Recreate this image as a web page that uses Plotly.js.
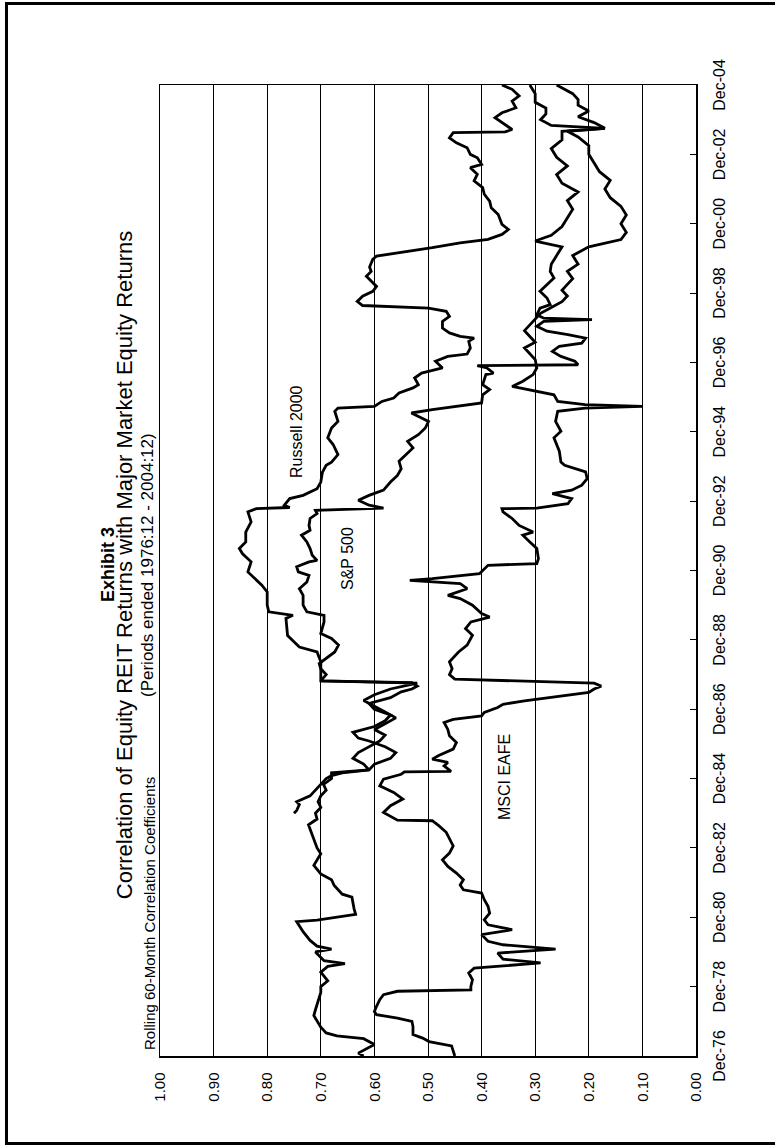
<!DOCTYPE html>
<html><head><meta charset="utf-8">
<script src="https://cdn.plot.ly/plotly-3.0.1.min.js"></script>
<style>
html,body{margin:0;padding:0;background:#fff;width:775px;height:1148px;overflow:hidden;}
#rot{position:absolute;left:0;top:0;width:1148px;height:775px;transform-origin:0 0;transform:translate(0,1148px) rotate(-90deg);}
#frame{position:absolute;left:5px;top:2px;width:800px;height:1137px;border:3px solid #000;border-right:none;pointer-events:none;}
</style></head><body>
<div id="rot"><div id="chart" style="width:1148px;height:775px"></div></div>
<div id="frame"></div>
<script>
// Months elapsed since Dec-1976
const tickLabels = ['Dec-76','Dec-78','Dec-80','Dec-82','Dec-84','Dec-86','Dec-88','Dec-90','Dec-92','Dec-94','Dec-96','Dec-98','Dec-00','Dec-02','Dec-04'];

const sp500Months = [0,1,4,6,7,8,10,12,14,16,18,22,24,26,29,31,32,33,36,37,38,40,43,45,46.5,47,49,51,53,55,56,59,61,63,66,68,70,72,75,78,80,82,84,86,88,90,92,94,96,98,99,101,103,105,107,109,111,113,115,117,119,121,123,125,127,129,129.8,132,134,135.8,139.8,142.2,144.5,146.2,150.2,152.5,153.7,156,159.4,161.7,164,166.3,167.5,169.3,171,171.5,173.3,175.6,177.9,180.2,181.9,183.6,186,187.7,188.8,189.6,190.6,192.3,194,195.8,198.6,200.9,203.2,205.8,208.1,210.4,212.7,215,217.3,219.6,220.8,222.5,223.7,225.4,226,228.8,230.6,232.3,235.8,236.3,238.1,238.9,239.2,240.4,242.1,243.8,245.6,246.7,248.4,249.6,250.8,252.5,254.2,254.8,255.3,256.5,258.8,260,262.3,264.6,266.9,269.2,271.5,274,277,280,282,284,287,290,293,296,299,302,305,308,311,314,317,320,321,322,324,326,328,330,333,336];
const sp500Values = [0.62,0.63,0.60,0.62,0.67,0.69,0.70,0.707,0.713,0.71,0.707,0.70,0.70,0.687,0.70,0.687,0.655,0.694,0.71,0.68,0.707,0.72,0.733,0.74,0.745,0.707,0.635,0.638,0.64,0.642,0.66,0.675,0.68,0.70,0.713,0.707,0.70,0.707,0.713,0.72,0.723,0.707,0.71,0.70,0.705,0.70,0.69,0.695,0.68,0.68,0.61,0.62,0.64,0.63,0.61,0.59,0.58,0.60,0.58,0.56,0.58,0.60,0.62,0.60,0.57,0.52,0.70,0.69,0.70,0.703,0.674,0.667,0.68,0.70,0.694,0.694,0.726,0.733,0.733,0.74,0.726,0.722,0.742,0.745,0.722,0.707,0.716,0.72,0.726,0.736,0.72,0.722,0.72,0.707,0.71,0.583,0.61,0.63,0.61,0.583,0.57,0.557,0.55,0.554,0.541,0.528,0.538,0.518,0.505,0.499,0.512,0.531,0.492,0.427,0.40,0.398,0.385,0.398,0.392,0.378,0.39,0.408,0.22,0.226,0.252,0.268,0.255,0.213,0.206,0.239,0.278,0.297,0.284,0.194,0.284,0.297,0.291,0.272,0.278,0.291,0.278,0.265,0.272,0.27,0.26,0.25,0.30,0.27,0.25,0.24,0.23,0.24,0.22,0.25,0.26,0.24,0.26,0.27,0.25,0.25,0.17,0.27,0.29,0.28,0.28,0.30,0.30,0.31];

const eafeMonths = [0,3.5,5,6.2,7.4,10.2,12,13.1,14.3,15.4,17.2,19.5,21.2,22.4,22.9,24.1,26.4,28.7,30.4,32.2,33.5,35.6,37,38.5,39.7,42,43.7,45.4,47.1,49.4,51.8,54.1,56.4,57.5,59.2,61,63.3,65.6,67.9,70.2,72.7,75,77.4,79.7,81.4,81.6,84.3,86.6,88.9,91.2,93.5,95.8,97.5,98.3,98.5,100.4,101.6,102.7,104,106.2,108.5,110.8,113,115.4,116.5,117.7,118.9,120.6,121.7,122.9,124,125.8,127,128,129,130.4,132,134,136.4,139.8,142.2,145.6,147.9,150.2,151.9,153.1,156,158.3,159.4,161.7,163.5,164.6,165.2,166.9,169.8,170.4,172.1,175.6,177.9,180.2,181.3,183.6,186,188.3,189.4,189.6,191.1,192.9,194.6,195.8,197.5,199.8,202.1,204.4,205.5,209.3,213.9,216.2,219.6,223.1,224.2,224.8,225.4,226.5,228.8,230,231.2,231.7,233.5,235.8,238.1,241,243,245,247,249,251,253,255,257,259,261,263,265,267,269,271.5,274,277,280,282.5,285,288,291,294,297,300,303,306,309,312,315,318,320,321,323,325,327,329,331,333,336];
const eafeValues = [0.45,0.456,0.498,0.51,0.528,0.528,0.53,0.557,0.596,0.60,0.596,0.59,0.583,0.557,0.42,0.42,0.417,0.424,0.414,0.29,0.36,0.37,0.262,0.36,0.388,0.40,0.343,0.388,0.395,0.385,0.388,0.395,0.40,0.434,0.44,0.434,0.447,0.463,0.473,0.46,0.453,0.46,0.466,0.48,0.492,0.557,0.583,0.57,0.547,0.564,0.59,0.583,0.55,0.544,0.457,0.47,0.463,0.492,0.48,0.453,0.447,0.46,0.463,0.47,0.453,0.40,0.395,0.37,0.36,0.32,0.27,0.20,0.19,0.177,0.19,0.45,0.46,0.455,0.46,0.443,0.427,0.417,0.43,0.42,0.385,0.40,0.417,0.44,0.463,0.427,0.44,0.534,0.492,0.404,0.388,0.297,0.294,0.297,0.31,0.323,0.304,0.33,0.343,0.36,0.362,0.297,0.239,0.232,0.268,0.232,0.213,0.203,0.206,0.245,0.252,0.255,0.265,0.252,0.262,0.258,0.207,0.10,0.207,0.258,0.265,0.297,0.336,0.343,0.323,0.304,0.297,0.30,0.31,0.32,0.30,0.31,0.32,0.31,0.30,0.29,0.27,0.25,0.24,0.25,0.24,0.23,0.24,0.22,0.23,0.20,0.14,0.13,0.14,0.13,0.14,0.16,0.17,0.16,0.18,0.19,0.20,0.20,0.22,0.24,0.17,0.19,0.22,0.20,0.22,0.22,0.23,0.26];

const russellMonths = [84,85,87,88,90,92,94,96,97,98,99,101,103,105,107,109,110,112,114,116,118,120,122,124,126,127,128,129.2,129.8,132,134,136.4,139.8,141.5,145.5,151.4,152.5,153.7,156,160.6,162.9,164.6,167.5,171,173.8,175.6,177.9,181.3,184.8,188.3,189.4,189.8,190.6,192.9,194,196.3,198.6,202,204.4,205.5,208.1,211.6,213.9,217.3,219.6,223.1,224.2,224.8,226.5,227.7,229.4,231.2,232.3,234.6,236.3,238.1,240.4,242.1,242.9,245,247.3,248.4,249,250.2,251.9,254.2,255.9,257.7,258.8,259.7,261.1,262.9,264.6,266.3,268,269.8,271.5,273,275.7,276.8,279.7,281.4,282.6,284.3,286,287.8,291.2,293.5,295.8,298.2,300.5,302.8,305.1,307.4,308.5,310.8,312,314.3,316,317.7,319.5,319.8,320.6,323,324.7,326.4,328.1,330.4,332.2,334.5,336];
const russellValues = [0.75,0.745,0.74,0.745,0.72,0.71,0.70,0.69,0.68,0.66,0.61,0.60,0.57,0.56,0.58,0.61,0.63,0.64,0.60,0.58,0.57,0.60,0.61,0.57,0.55,0.53,0.52,0.53,0.70,0.70,0.70,0.70,0.707,0.74,0.762,0.765,0.752,0.797,0.80,0.80,0.81,0.82,0.836,0.83,0.846,0.852,0.84,0.84,0.83,0.836,0.82,0.758,0.768,0.758,0.733,0.707,0.70,0.697,0.69,0.68,0.668,0.677,0.687,0.68,0.668,0.674,0.668,0.60,0.586,0.564,0.554,0.528,0.518,0.525,0.512,0.473,0.486,0.463,0.427,0.421,0.424,0.414,0.44,0.46,0.473,0.473,0.46,0.466,0.499,0.622,0.632,0.622,0.603,0.596,0.606,0.615,0.606,0.609,0.603,0.596,0.492,0.44,0.388,0.362,0.35,0.362,0.369,0.382,0.385,0.395,0.398,0.414,0.408,0.421,0.40,0.408,0.421,0.427,0.447,0.46,0.453,0.356,0.343,0.362,0.375,0.362,0.336,0.343,0.33,0.343,0.362];

const FONT = 'Arial, "Liberation Sans", sans-serif';
const lineStyle = {color:'#000', width:2.8};

const traces = [
  {x: sp500Months, y: sp500Values, name:'S&P 500', mode:'lines', line:lineStyle},
  {x: eafeMonths, y: eafeValues, name:'MSCI EAFE', mode:'lines', line:lineStyle},
  {x: russellMonths, y: russellValues, name:'Russell 2000', mode:'lines', line:lineStyle}
];

const layout = {
  width:1148, height:775,
  margin:{l:92, r:85, t:160, b:79},
  paper_bgcolor:'rgba(0,0,0,0)', plot_bgcolor:'#fff',
  showlegend:false,
  font:{family:FONT, color:'#000', size:16},
  title:{
    text:'Correlation of Equity REIT Returns with Major Market Equity Returns',
    font:{family:FONT, size:22, color:'#000'},
    x:583/1148, xanchor:'center', y:1-124/775, yanchor:'middle', yref:'container'
  },
  xaxis:{
    range:[0,336], tickmode:'array',
    tickvals: tickLabels.map((_,i)=>i*24), ticktext: tickLabels,
    ticks:'inside', ticklen:6, tickcolor:'#000', tickwidth:1,
    showline:true, mirror:true, linecolor:'#000', linewidth:1.5,
    showgrid:false, zeroline:false, tickfont:{size:16}, tickangle:0,
    ticklabelstandoff:8
  },
  yaxis:{
    range:[0,1], dtick:0.1, tickformat:'.2f',
    showgrid:true, gridcolor:'#000', gridwidth:1,
    showline:true, mirror:true, linecolor:'#000', linewidth:1.5,
    ticks:'', zeroline:false, tickfont:{size:15}, ticklabelstandoff:12
  },
  annotations:[
    {xref:'paper', yref:'paper', x:(583-92)/971, y:(696-108)/536, xanchor:'center', yanchor:'middle',
     text:'<b>Exhibit 3</b>', showarrow:false, font:{size:18}},
    {xref:'paper', yref:'paper', x:(583-92)/971, y:(696-147)/536, xanchor:'center', yanchor:'middle',
     text:'(Periods ended 1976:12 - 2004:12)', showarrow:false, font:{size:17}},
    {xref:'paper', yref:'paper', x:0.004, y:1.0, xanchor:'left', yanchor:'bottom',
     text:'Rolling 60-Month Correlation Coefficients', showarrow:false, font:{size:15}},
    {x:216, y:0.746, text:'Russell 2000', showarrow:false, font:{size:16}},
    {x:172, y:0.65, text:'S&P 500', showarrow:false, font:{size:16}},
    {x:96.5, y:0.357, text:'MSCI EAFE', showarrow:false, font:{size:16}}
  ]
};

Plotly.newPlot('chart', traces, layout, {staticPlot:true, displayModeBar:false});
</script></body></html>
